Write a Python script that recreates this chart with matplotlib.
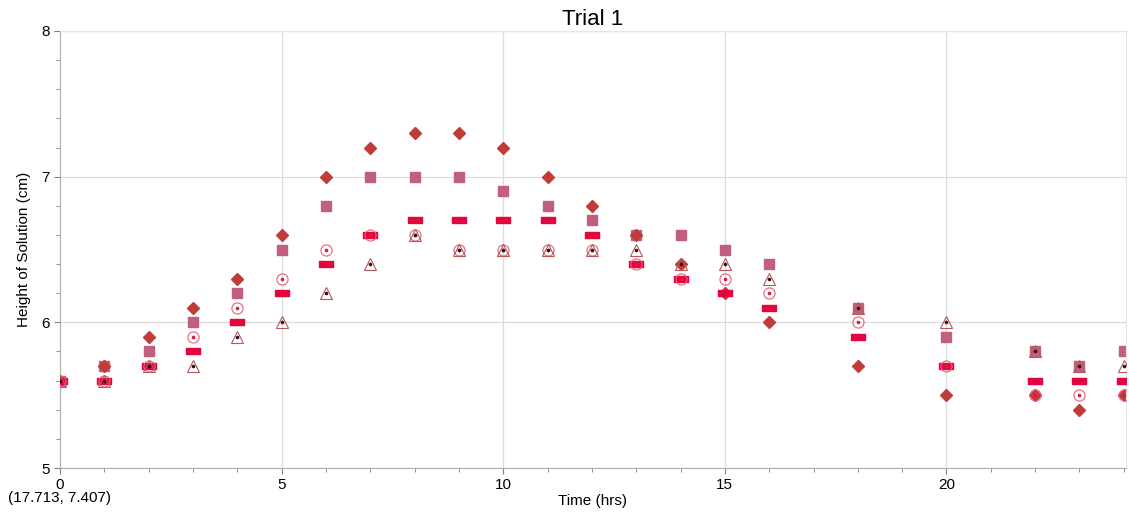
import numpy as np
import matplotlib
matplotlib.use("Agg")
import matplotlib.pyplot as plt
from matplotlib.ticker import MultipleLocator

plt.rcParams['font.family'] = ['Liberation Sans', 'DejaVu Sans']

# time points (hrs)
hours = [0, 1, 2, 3, 4, 5, 6, 7, 8, 9, 10, 11, 12, 13, 14, 15, 16, 18, 20, 22, 23, 24]

# heights of solution (cm) for each marker series
diamond = [5.6, 5.7, 5.9, 6.1, 6.3, 6.6, 7.0, 7.2, 7.3, 7.3, 7.2, 7.0, 6.8, 6.6, 6.4, 6.2, 6.0, 5.7, 5.5, 5.5, 5.4, 5.5]
square = [5.6, 5.7, 5.8, 6.0, 6.2, 6.5, 6.8, 7.0, 7.0, 7.0, 6.9, 6.8, 6.7, 6.6, 6.6, 6.5, 6.4, 6.1, 5.9, 5.8, 5.7, 5.8]
dash = [5.6, 5.6, 5.7, 5.8, 6.0, 6.2, 6.4, 6.6, 6.7, 6.7, 6.7, 6.7, 6.6, 6.4, 6.3, 6.2, 6.1, 5.9, 5.7, 5.6, 5.6, 5.6]
circle = [5.6, 5.6, 5.7, 5.9, 6.1, 6.3, 6.5, 6.6, 6.6, 6.5, 6.5, 6.5, 6.5, 6.4, 6.3, 6.3, 6.2, 6.0, 5.7, 5.5, 5.5, 5.5]
triangle = [5.6, 5.6, 5.7, 5.7, 5.9, 6.0, 6.2, 6.4, 6.6, 6.5, 6.5, 6.5, 6.5, 6.5, 6.4, 6.4, 6.3, 6.1, 6.0, 5.8, 5.7, 5.7]

dash_marker = [(-1, -0.42), (1, -0.42), (1, 0.42), (-1, 0.42), (-1, -0.42)]

fig = plt.figure(figsize=(11.29, 5.13), dpi=100)
ax = fig.add_axes([60 / 1129, 1 - 468 / 513, 1066 / 1129, 437 / 513])

ax.plot(hours, square, linestyle='none', marker='s', markersize=7.5,
        color='#c0607e', zorder=2)
ax.plot(hours, diamond, linestyle='none', marker='D', markersize=6.2,
        color='#c23b3b', zorder=2.5)
ax.plot(hours, dash, linestyle='none', marker=dash_marker, markersize=10,
        color='#e3053e', zorder=3)
ax.plot(hours, circle, linestyle='none', marker='o', markersize=8,
        markerfacecolor='none', markeredgecolor='#e8607a', markeredgewidth=0.8, zorder=4)
ax.plot(hours, circle, linestyle='none', marker='o', markersize=1.6,
        color='#d0203a', zorder=4.1)
ax.plot(hours, triangle, linestyle='none', marker='^', markersize=9,
        markerfacecolor='none', markeredgecolor='#b5585a', markeredgewidth=0.8, zorder=5)
ax.plot(hours, triangle, linestyle='none', marker='o', markersize=1.6,
        color='#3a1010', zorder=5.1)

ax.set_xlim(0, 24.05)
ax.set_ylim(5, 8)
ax.xaxis.set_major_locator(MultipleLocator(5))
ax.xaxis.set_minor_locator(MultipleLocator(1))
ax.yaxis.set_major_locator(MultipleLocator(1))
ax.yaxis.set_minor_locator(MultipleLocator(0.2))
ax.grid(True, which='major', color='#dcdcdc', linewidth=0.9)
ax.set_axisbelow(True)

for side in ['top', 'right']:
    ax.spines[side].set_color('#e6e6e6')
for side in ['left', 'bottom']:
    ax.spines[side].set_color('#b0b0b0')
ax.tick_params(which='both', direction='out', colors='#808080', labelcolor='black', labelsize=11)
ax.tick_params(which='major', length=4)
ax.tick_params(which='minor', length=3)

ax.set_xlabel('Time (hrs)', fontsize=11, labelpad=1)
ax.set_ylabel('Height of Solution (cm)', fontsize=11, labelpad=7)
ax.set_title('Trial 1', fontsize=16, pad=4)
fig.text(8 / 1129, 1 - 498 / 513, '(17.713, 7.407)', fontsize=11, va='center')

fig.savefig('out.png', dpi=100)
